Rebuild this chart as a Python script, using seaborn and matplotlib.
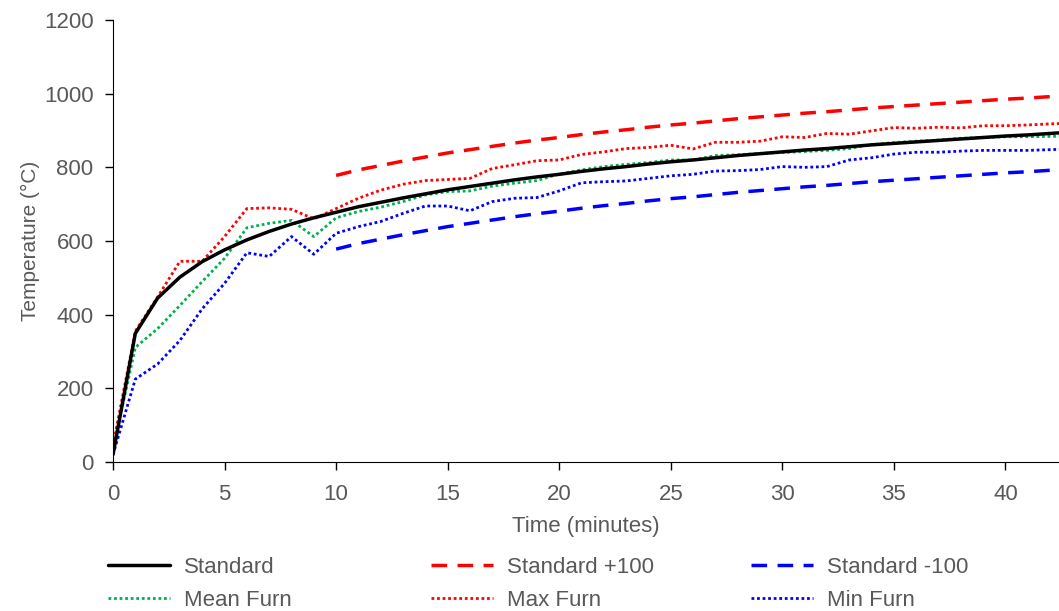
import matplotlib
matplotlib.use("Agg")
import matplotlib.pyplot as plt
import seaborn as sns
import pandas as pd

# time in minutes
time = list(range(0, 44))
time_band = list(range(10, 44))

standard = [20, 349, 445, 502, 544, 576, 603, 626, 646, 663, 678, 693, 705, 717, 728,
            739, 748, 757, 766, 774, 781, 789, 796, 802, 809, 815, 820, 826, 832, 837,
            842, 847, 851, 856, 861, 865, 869, 873, 877, 881, 885, 888, 892, 896]
std_plus = [778, 793, 805, 817, 828, 839, 848, 857, 866, 874, 881, 889, 896, 902, 909,
            915, 920, 926, 932, 937, 942, 947, 951, 956, 961, 965, 969, 973, 977, 981,
            985, 988, 992, 996]
std_minus = [578, 593, 605, 617, 628, 639, 648, 657, 666, 674, 681, 689, 696, 702, 709,
             715, 720, 726, 732, 737, 742, 747, 751, 756, 761, 765, 769, 773, 777, 781,
             785, 788, 792, 796]
mean_furn = [35, 311, 362, 425, 490, 553, 636, 648, 656, 612, 663, 680, 692, 707, 725,
             734, 736, 749, 757, 764, 782, 793, 802, 808, 813, 820, 820, 832, 834, 838,
             840, 843, 846, 851, 862, 867, 871, 874, 879, 881, 883, 883, 884, 885]
max_furn = [45, 355, 448, 545, 545, 612, 688, 690, 686, 660, 688, 716, 738, 754, 764,
            767, 770, 797, 807, 818, 820, 835, 842, 851, 854, 860, 850, 868, 868, 871,
            883, 881, 892, 890, 899, 908, 906, 909, 907, 913, 913, 915, 918, 920]
min_furn = [20, 225, 266, 330, 416, 485, 568, 558, 612, 564, 621, 639, 653, 675, 695,
            695, 682, 707, 716, 718, 736, 758, 761, 763, 770, 777, 781, 790, 791, 794,
            802, 800, 802, 820, 826, 836, 841, 841, 844, 846, 846, 846, 848, 850]

sns.set_style("ticks")
plt.rcParams['font.family'] = ['Liberation Sans', 'DejaVu Sans']
grey = '#595959'

df = pd.DataFrame({'time': time, 'standard': standard, 'mean': mean_furn,
                   'max': max_furn, 'min': min_furn})
band = pd.DataFrame({'time': time_band, 'plus': std_plus, 'minus': std_minus})

fig = plt.figure(figsize=(10.59, 6.11), dpi=100)
ax = fig.add_axes([113 / 1059, 1 - 462 / 611, 1 - 113 / 1059, (462 - 20) / 611])

dots = (0, (1, 1))
dash = (0, (4.5, 3))
sns.lineplot(data=df, x='time', y='mean', ax=ax, color='#00B050', linestyle=dots, lw=2, label='Mean Furn')
sns.lineplot(data=df, x='time', y='max', ax=ax, color='#FF0000', linestyle=dots, lw=2, label='Max Furn')
sns.lineplot(data=df, x='time', y='min', ax=ax, color='#0000FF', linestyle=dots, lw=2, label='Min Furn')
sns.lineplot(data=band, x='time', y='plus', ax=ax, color='#FF0000', linestyle=dash, lw=2.5, label='Standard +100')
sns.lineplot(data=band, x='time', y='minus', ax=ax, color='#0000FF', linestyle=dash, lw=2.5, label='Standard -100')
sns.lineplot(data=df, x='time', y='standard', ax=ax, color='black', lw=2.5, label='Standard')

handles, labels = ax.get_legend_handles_labels()
ax.get_legend().remove()
hmap = dict(zip(labels, handles))

ax.set_xlim(0, 42.4)
ax.set_ylim(0, 1200)
ax.set_xticks(range(0, 45, 5))
ax.set_yticks(range(0, 1201, 200))
sns.despine(ax=ax)
ax.spines['left'].set_color('black')
ax.spines['bottom'].set_color('black')
ax.tick_params(colors=grey, labelsize=16, length=6, width=1, color='black', direction='out')
ax.tick_params(axis='y', pad=8)
ax.tick_params(axis='x', pad=10)
ax.set_xlabel('Time (minutes)', fontsize=16, color=grey, labelpad=8)
ax.set_ylabel('Temperature (°C)', fontsize=15, color=grey, labelpad=3)

# legend in three columns below the plot
cols = [(['Standard', 'Mean Furn'], 108), (['Standard +100', 'Max Furn'], 431),
        (['Standard -100', 'Min Furn'], 751)]
for names, xpx in cols:
    fig.legend([hmap[n] for n in names], names, loc='upper left',
               bbox_to_anchor=(xpx / 1059, 1 - 557 / 611), frameon=False,
               fontsize=16, labelcolor=grey, handlelength=2.8, handletextpad=0.6,
               labelspacing=0.55, borderpad=0, borderaxespad=0)

fig.savefig('out.png', dpi=100)
plt.close(fig)
